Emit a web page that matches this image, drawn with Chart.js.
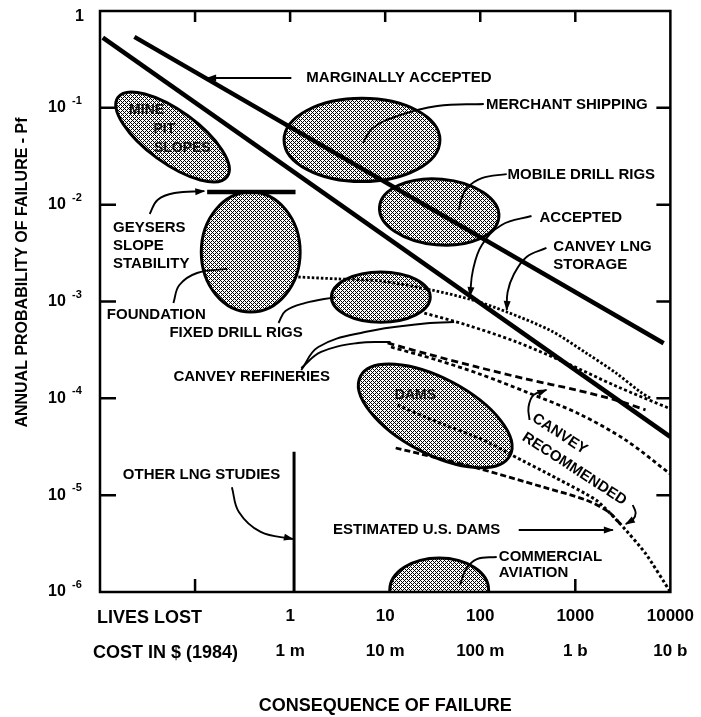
<!DOCTYPE html>
<html>
<head>
<meta charset="utf-8">
<script src="https://cdn.jsdelivr.net/npm/chart.js@4.4.1/dist/chart.umd.min.js"></script>
<style>
  html, body { margin: 0; padding: 0; background: #fff; }
  canvas { display: block; }
</style>
</head>
<body>
<canvas id="c" width="701" height="717"></canvas>
<script>
// ===== DATA =====
const xTicks = [0.01, 0.1, 1, 10, 100, 1000, 10000];
const livesLabels = ['', '', '1', '10', '100', '1000', '10000'];
const costLabels = ['', '', '1 m', '10 m', '100 m', '1 b', '10 b'];
const yTicks = [1, 1e-1, 1e-2, 1e-3, 1e-4, 1e-5, 1e-6];
const yBase = ['1', '10', '10', '10', '10', '10', '10'];
const yExp = ['', '-1', '-2', '-3', '-4', '-5', '-6'];

// criteria lines
const marginalLives = [0.023, 8500];
const marginalProb = [0.54, 3.7e-4];
const acceptedLives = [0.0107, 10000];
const acceptedProb = [0.53, 4.0e-5];

// other straight marks
const geysersLives = [0.134, 1.14];
const geysersProb = [0.0135, 0.0135];
const lngStudyLives = [1.1, 1.1];
const lngStudyProb = [2.8e-5, 1e-6];

// curves
const storageLives = [1.22, 3.2, 9.0, 30, 82, 190, 560, 1300, 2670, 4860, 6200];
const storageProb = [1.79e-3, 1.71e-3, 1.63e-3, 1.32e-3, 1.04e-3, 7.8e-4, 4.96e-4, 2.94e-4, 1.83e-4, 1.16e-4, 1.0e-4];
const refALives = [25.8, 72.6, 241, 802, 2670, 10000];
const refAProb = [7.6e-4, 5.71e-4, 3.82e-4, 2.32e-4, 1.34e-4, 7.8e-5];
const refBLives = [10.6, 27.8, 92, 307, 1020, 2670, 5480];
const refBProb = [3.73e-4, 2.87e-4, 2.11e-4, 1.58e-4, 1.22e-4, 9.6e-5, 7.6e-5];
const recLives = [11.5, 35, 99, 307, 1100, 3400, 10000];
const recProb = [3.39e-4, 2.49e-4, 1.78e-4, 1.16e-4, 6.9e-5, 3.7e-5, 1.65e-5];
const damsALives = [13.5, 35.3, 109, 214, 631, 1650, 3000, 5480, 10000];
const damsAProb = [8.5e-5, 5.7e-5, 3.7e-5, 2.6e-5, 1.5e-5, 8.9e-6, 5.0e-6, 2.5e-6, 1.0e-6];
const damsBLives = [12.9, 35.3, 92, 461, 1300, 2250, 3000];
const damsBProb = [3.07e-5, 2.42e-5, 1.91e-5, 1.21e-5, 8.9e-6, 6.7e-6, 5.0e-6];

// shaded regions: centre, half size in decades, tilt
const regionNames = ['Mine pit slopes', 'Merchant shipping', 'Mobile drill rigs', 'Geysers / foundation', 'Fixed drill rigs', 'Dams', 'Commercial aviation'];
const regionLives = [0.058, 5.7, 37, 0.385, 9.0, 33.6, 37];
const regionProb = [0.05, 0.0466, 0.0084, 0.00324, 0.00111, 6.6e-5, 1.05e-6];
const regionHalfX = [0.71, 0.82, 0.63, 0.52, 0.52, 0.89, 0.52];
const regionHalfY = [0.27, 0.43, 0.34, 0.62, 0.26, 0.39, 0.33];
const regionTilt = [36, 0, 5, 0, 0, 28, 0];

// leader lines
const leaders = [
  { lives: [1.03, 0.134], prob: [0.203, 0.203], arrow: true },
  { lives: [109, 35.3, 13.5, 7.41, 5.82], prob: [0.1096, 0.1045, 0.0824, 0.0619, 0.0433], arrow: false },
  { lives: [190, 104, 72.6, 62.8, 59.8], prob: [0.0207, 0.0188, 0.0149, 0.0112, 0.00881], arrow: false },
  { lives: [346, 168, 104, 83.8, 78], prob: [0.00764, 0.00617, 0.00384, 0.00211, 0.00114], arrow: true },
  { lives: [497, 307, 224, 194, 190], prob: [0.00357, 0.00288, 0.00188, 0.00125, 8.17e-4], arrow: true },
  { lives: [0.0333, 0.0403, 0.0607, 0.125], prob: [0.00801, 0.0112, 0.0132, 0.0138], arrow: true },
  { lives: [0.0592, 0.0684, 0.105, 0.217], prob: [9.66e-4, 1.48e-3, 1.97e-3, 2.17e-3], arrow: false },
  { lives: [0.755, 0.893, 1.45, 2.97], prob: [6.0e-4, 7.98e-4, 9.66e-4, 1.11e-3], arrow: false },
  { lives: [1.31, 1.98, 6.11, 23.4, 53.1], prob: [1.96e-4, 3.39e-4, 4.84e-4, 5.86e-4, 6.14e-4], arrow: false },
  { lives: [1.31, 2.12, 5.16, 11.4], prob: [2.06e-4, 3.01e-4, 3.73e-4, 3.82e-4], arrow: false },
  { lives: [0.244, 0.289, 0.49, 1.07], prob: [1.21e-5, 6.7e-6, 4.17e-6, 3.53e-6], arrow: true },
  { lives: [330, 322, 363, 497], prob: [5.97e-5, 8.14e-5, 1.08e-4, 1.22e-4], arrow: true },
  { lives: [4018, 4315, 4018, 3398], prob: [7.91e-6, 6.55e-6, 5.55e-6, 5.04e-6], arrow: true },
  { lives: [254, 2483], prob: [4.37e-6, 4.37e-6], arrow: true },
  { lives: [149, 92.3, 71, 61.4], prob: [2.3e-6, 2.19e-6, 1.73e-6, 1.18e-6], arrow: false }
];

// text notes (left aligned)
const noteText = ['MARGINALLY ACCEPTED', 'MERCHANT SHIPPING', 'MOBILE DRILL RIGS', 'ACCEPTED', 'CANVEY LNG', 'STORAGE',
  'GEYSERS', 'SLOPE', 'STABILITY', 'FOUNDATION', 'FIXED DRILL RIGS', 'CANVEY REFINERIES', 'OTHER LNG STUDIES',
  'ESTIMATED U.S. DAMS', 'COMMERCIAL', 'AVIATION'];
const noteLives = [1.48, 115, 194, 420, 587, 587, 0.0137, 0.0137, 0.0137, 0.0118, 0.0537, 0.0592, 0.0174, 2.83, 157, 157];
const noteProb = [0.203, 0.107, 0.0202, 0.00728, 0.00366, 0.00238, 0.00574, 0.00374, 0.00244, 7.26e-4, 4.73e-4, 1.66e-4, 1.61e-5, 4.37e-6, 2.3e-6, 1.57e-6];
// labels inside regions (centred)
const innerText = ['MINE', 'PIT', 'SLOPES', 'DAMS'];
const innerLives = [0.0309, 0.0476, 0.0734, 20.8];
const innerProb = [0.095, 0.0604, 0.0385, 1.08e-4];
// rotated label
const recText = ['CANVEY', 'RECOMMENDED'];
const recTextLives = [363, 286];
const recTextProb = [6.41e-5, 4.08e-5];

// ===== HELPERS =====
const FONT = '"Liberation Sans", Arial, Helvetica, sans-serif';
const zip = (xs, ys) => xs.map((v, i) => ({ x: v, y: ys[i] }));

function line(xs, ys, width, dash, tension, arrow) {
  return {
    data: zip(xs, ys), borderColor: '#000', borderWidth: width, borderDash: dash || [],
    pointRadius: 0, fill: false, tension: tension || 0, borderCapStyle: 'butt', arrow: !!arrow
  };
}

const datasets = [
  line(marginalLives, marginalProb, 4.5),
  line(acceptedLives, acceptedProb, 4.5),
  line(geysersLives, geysersProb, 4.5),
  line(lngStudyLives, lngStudyProb, 3),
  line(storageLives, storageProb, 2.8, [2.5, 2], 0.3),
  line(refALives, refAProb, 2.8, [3, 2.5], 0.3),
  line(refBLives, refBProb, 2.8, [7, 4], 0.3),
  line(recLives, recProb, 2.8, [4, 3], 0.3),
  line(damsALives, damsAProb, 3, [3, 2.5], 0.2),
  line(damsBLives, damsBProb, 2.8, [6, 3], 0.3)
];
leaders.forEach(l => datasets.push(line(l.lives, l.prob, 1.9, [], 0.4, l.arrow)));

// crosshatch fill
const hatch = (() => {
  const p = document.createElement('canvas');
  p.width = p.height = 4;
  const g = p.getContext('2d');
  g.fillStyle = '#fff'; g.fillRect(0, 0, 4, 4);
  g.fillStyle = '#000';
  for (let i = 0; i < 4; i++)
    for (let j = 0; j < 4; j++)
      if ((i + j) % 4 === 0 || (i - j + 4) % 4 === 0) g.fillRect(i, j, 1, 1);
  return document.getElementById('c').getContext('2d').createPattern(p, 'repeat');
})();

// ===== PLUGINS =====
const regionsPlugin = {
  id: 'regions',
  beforeDatasetsDraw(chart) {
    const { ctx, chartArea: a, scales: { x, y } } = chart;
    ctx.save();
    ctx.beginPath();
    ctx.rect(a.left, a.top, a.right - a.left, a.bottom - a.top);
    ctx.clip();
    regionLives.forEach((lv, i) => {
      const cx = x.getPixelForValue(lv), cy = y.getPixelForValue(regionProb[i]);
      const rx = Math.abs(x.getPixelForValue(lv * Math.pow(10, regionHalfX[i])) - cx);
      const ry = Math.abs(y.getPixelForValue(regionProb[i] * Math.pow(10, regionHalfY[i])) - cy);
      ctx.beginPath();
      ctx.ellipse(cx, cy, rx, ry, regionTilt[i] * Math.PI / 180, 0, Math.PI * 2);
      ctx.fillStyle = hatch;
      ctx.fill();
      ctx.lineWidth = 3;
      ctx.strokeStyle = '#000';
      ctx.stroke();
    });
    ctx.restore();
  }
};

const annotatePlugin = {
  id: 'annotate',
  afterDatasetsDraw(chart) {
    const { ctx, chartArea: a, scales: { x, y } } = chart;
    ctx.save();
    ctx.strokeStyle = '#000';
    ctx.fillStyle = '#000';

    // frame
    ctx.lineWidth = 2.5;
    ctx.strokeRect(a.left, a.top, a.right - a.left, a.bottom - a.top);

    // inward ticks
    ctx.beginPath();
    yTicks.slice(1, 6).forEach(v => {
      const py = y.getPixelForValue(v);
      ctx.moveTo(a.left, py); ctx.lineTo(a.left + 16, py);
      ctx.moveTo(a.right - 14, py); ctx.lineTo(a.right, py);
    });
    xTicks.slice(1, 6).forEach(v => {
      const px = x.getPixelForValue(v);
      ctx.moveTo(px, a.top); ctx.lineTo(px, a.top + 11);
    });
    [0.1, 1000].forEach(v => {
      const px = x.getPixelForValue(v);
      ctx.moveTo(px, a.bottom); ctx.lineTo(px, a.bottom - 13);
    });
    ctx.stroke();

    // y tick labels
    ctx.textBaseline = 'middle';
    yTicks.forEach((v, i) => {
      const py = y.getPixelForValue(v);
      ctx.font = 'bold 16px ' + FONT;
      if (!yExp[i]) {
        ctx.textAlign = 'right';
        ctx.fillText(yBase[i], a.left - 16, py + 6);
        return;
      }
      ctx.textAlign = 'left';
      ctx.fillText(yBase[i], a.left - 52, py);
      ctx.font = 'bold 11px ' + FONT;
      ctx.fillText(yExp[i], a.left - 28, py - 7);
    });

    // x row headers
    ctx.textAlign = 'left';
    ctx.font = 'bold 18px ' + FONT;
    ctx.fillText('LIVES LOST', a.left - 3, a.bottom + 26);
    ctx.fillText('COST IN $ (1984)', a.left - 7, a.bottom + 61);

    // y title
    ctx.save();
    ctx.translate(23, (a.top + a.bottom) / 2 - 29);
    ctx.rotate(-Math.PI / 2);
    ctx.textAlign = 'center';
    ctx.font = 'bold 16px ' + FONT;
    ctx.fillText('ANNUAL PROBABILITY OF FAILURE - Pf', 0, 0);
    ctx.restore();

    // notes
    ctx.font = 'bold 15px ' + FONT;
    ctx.textAlign = 'left';
    noteText.forEach((t, i) => {
      ctx.fillText(t, x.getPixelForValue(noteLives[i]), y.getPixelForValue(noteProb[i]));
    });
    ctx.textAlign = 'center';
    ctx.font = 'bold 14px ' + FONT;
    ctx.fillStyle = '#111';
    innerText.forEach((t, i) => {
      ctx.fillText(t, x.getPixelForValue(innerLives[i]), y.getPixelForValue(innerProb[i]));
    });
    ctx.fillStyle = '#000';
    ctx.font = 'bold 15px ' + FONT;
    ctx.textAlign = 'left';
    recText.forEach((t, i) => {
      ctx.save();
      ctx.translate(x.getPixelForValue(recTextLives[i]), y.getPixelForValue(recTextProb[i]));
      ctx.rotate(33 * Math.PI / 180);
      ctx.fillText(t, 0, 0);
      ctx.restore();
    });

    // arrowheads
    chart.data.datasets.forEach((ds, i) => {
      if (!ds.arrow) return;
      const pts = chart.getDatasetMeta(i).data;
      const p1 = pts[pts.length - 2], p2 = pts[pts.length - 1];
      const ang = Math.atan2(p2.y - p1.y, p2.x - p1.x);
      ctx.save();
      ctx.translate(p2.x, p2.y);
      ctx.rotate(ang);
      ctx.beginPath();
      ctx.moveTo(1, 0);
      ctx.lineTo(-9, -3.5);
      ctx.lineTo(-9, 3.5);
      ctx.closePath();
      ctx.fill();
      ctx.restore();
    });
    ctx.restore();
  }
};

// ===== CHART =====
new Chart(document.getElementById('c'), {
  type: 'line',
  data: { datasets },
  options: {
    responsive: false,
    animation: false,
    events: [],
    layout: { padding: { top: 11, right: 26, left: 0, bottom: 0 } },
    plugins: { legend: { display: false }, tooltip: { enabled: false } },
    scales: {
      x: {
        type: 'logarithmic', min: 0.01, max: 10000, position: 'bottom',
        grid: { display: false, drawTicks: false },
        border: { display: false },
        afterBuildTicks: s => { s.ticks = xTicks.map(v => ({ value: v })); },
        afterFit: s => { s.height = 125; },
        ticks: {
          autoSkip: false, maxRotation: 0, minRotation: 0, padding: 7, color: '#000',
          font: { family: FONT, size: 17, weight: 'bold', lineHeight: '35px' },
          callback: (v, i) => [livesLabels[i], costLabels[i]]
        },
        title: {
          display: true, text: 'CONSEQUENCE OF FAILURE', color: '#000',
          font: { family: FONT, size: 18, weight: 'bold' },
          padding: { top: 0, bottom: 0 }
        }
      },
      y: {
        type: 'logarithmic', min: 1e-6, max: 1,
        grid: { display: false, drawTicks: false },
        border: { display: false },
        ticks: { display: false },
        afterFit: s => { s.width = 100; }
      }
    }
  },
  plugins: [regionsPlugin, annotatePlugin]
});
</script>
</body>
</html>
